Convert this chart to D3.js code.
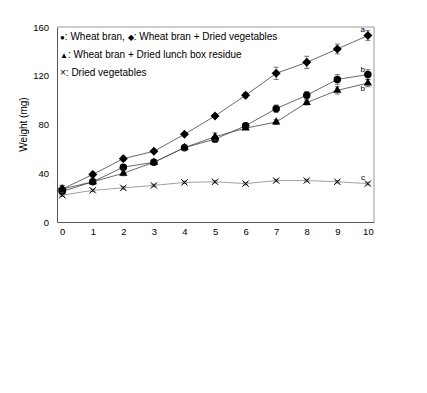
<!DOCTYPE html>
<html lang="en">
<head>
<meta charset="UTF-8">
<title>Weight chart</title>
<script src="https://d3js.org/d3.v7.min.js"></script>
<style>
  body { margin: 0; background: #fff; }
  text { font-family: "Liberation Sans", Arial, sans-serif; fill: #000; }
</style>
</head>
<body>
<svg width="427" height="393"></svg>
<script>
  // days
  const days = [0, 1, 2, 3, 4, 5, 6, 7, 8, 9, 10];
  // mean weight (mg)
  const wheatBran     = [25, 33, 45, 49, 61, 68, 79, 93, 104, 117, 121];
  const wheatVeg      = [27, 39, 52, 58, 72, 87, 104, 122, 131, 142, 153];
  const wheatLunch    = [27, 33, 40, 49, 61, 70, 77, 82, 98, 108, 114];
  const driedVeg      = [22, 26, 28, 30, 32.5, 33, 31.5, 34, 34, 33, 31.5];
  // error (SD)
  const wheatBranErr  = [3, 2, 2, 2, 2, 2, 2, 3, 3, 4, 4];
  const wheatVegErr   = [3, 2, 2, 1, 1, 1, 2, 5, 5, 4, 4];
  const wheatLunchErr = [3, 1, 2, 1, 2, 3, 1, 2, 2, 3, 3];
  const driedVegErr   = [1, 1, 1, 1, 1, 1, 1, 1, 1, 1, 1];
  const yTicks = [0, 40, 80, 120, 160];
  const letters = ["a", "b", "b", "c"];

  const svg = d3.select("svg");
  const mLeft = 57, mRight = 374, mTop = 27, mBottom = 222;

  const x = d3.scaleLinear().domain([-0.17, 10.2]).range([mLeft, mRight]);
  const y = d3.scaleLinear().domain([0, 160]).range([mBottom, mTop]);

  // frame
  svg.append("line").attr("x1", mLeft).attr("x2", mRight).attr("y1", mTop).attr("y2", mTop)
     .attr("stroke", "#999");
  svg.append("line").attr("x1", mRight).attr("x2", mRight).attr("y1", mTop).attr("y2", mBottom)
     .attr("stroke", "#999");

  // axes
  const yAxis = svg.append("g").attr("transform", `translate(${mLeft},0)`)
     .call(d3.axisLeft(y).tickValues(yTicks).tickSize(0).tickPadding(8));
  yAxis.select(".domain").attr("stroke", "#555");
  yAxis.selectAll("text").attr("font-size", 9.5).attr("fill", "#000");

  const xAxis = svg.append("g").attr("transform", `translate(0,${mBottom})`)
     .call(d3.axisBottom(x).tickValues(days).tickSize(0).tickPadding(6));
  xAxis.select(".domain").attr("stroke", "#555");
  xAxis.selectAll("text").attr("font-size", 9.5).attr("fill", "#000");

  svg.append("text")
     .attr("transform", `translate(27,${(mTop + mBottom) / 2}) rotate(-90)`)
     .attr("text-anchor", "middle")
     .attr("font-size", 10)
     .text("Weight (mg)");

  const series = [
    { vals: wheatVeg, err: wheatVegErr, shape: "diamond", line: "#444" },
    { vals: wheatBran, err: wheatBranErr, shape: "circle", line: "#444" },
    { vals: wheatLunch, err: wheatLunchErr, shape: "triangle", line: "#444" },
    { vals: driedVeg, err: driedVegErr, shape: "x", line: "#888" }
  ];

  const line = d3.line().x((d, i) => x(days[i])).y(d => y(d));

  series.forEach(s => {
    svg.append("path").datum(s.vals).attr("d", line)
       .attr("fill", "none").attr("stroke", s.line).attr("stroke-width", 0.8);

    const g = svg.append("g");
    // error bars
    days.forEach((d, i) => {
      const cx = x(d), y1 = y(s.vals[i] - s.err[i]), y2 = y(s.vals[i] + s.err[i]);
      g.append("line").attr("x1", cx).attr("x2", cx).attr("y1", y1).attr("y2", y2)
        .attr("stroke", "#444").attr("stroke-width", 0.7);
      [y1, y2].forEach(yy => g.append("line").attr("x1", cx - 2.5).attr("x2", cx + 2.5)
        .attr("y1", yy).attr("y2", yy).attr("stroke", "#444").attr("stroke-width", 0.7));
    });
    // markers
    days.forEach((d, i) => {
      const cx = x(d), cy = y(s.vals[i]);
      const m = g.append("path").attr("transform", `translate(${cx},${cy})`);
      if (s.shape === "diamond") {
        m.attr("d", d3.symbol().type(d3.symbolSquare).size(40)())
         .attr("transform", `translate(${cx},${cy}) rotate(45)`).attr("fill", "#000");
      } else if (s.shape === "circle") {
        m.attr("d", d3.symbol().type(d3.symbolCircle).size(44)()).attr("fill", "#000");
      } else if (s.shape === "triangle") {
        m.attr("d", d3.symbol().type(d3.symbolTriangle).size(30)()).attr("fill", "#000");
      } else {
        m.attr("d", d3.symbol().type(d3.symbolX).size(28)())
         .attr("fill", "none").attr("stroke", "#000").attr("stroke-width", 1);
      }
    });
  });

  // significance letters
  const lastIdx = days.length - 1;
  const letterPos = [
    [wheatVeg[lastIdx], -4],
    [wheatBran[lastIdx], -3],
    [wheatLunch[lastIdx], 8],
    [driedVeg[lastIdx], -4]
  ];
  letterPos.forEach((p, i) => {
    svg.append("text").attr("x", x(days[lastIdx]) - 3).attr("y", y(p[0]) + p[1])
      .attr("text-anchor", "end").attr("font-size", 8).attr("fill", "#555").text(letters[i]);
  });

  // legend
  const legendLines = [
    [["\u25CF", ": Wheat bran, "], ["\u25C6", ": Wheat bran + Dried vegetables"]],
    [["\u25B2", ": Wheat bran + Dried lunch box residue"]],
    [["\u00D7", ":  Dried vegetables"]]
  ];
  legendLines.forEach((parts, i) => {
    const t = svg.append("text").attr("x", 60).attr("y", 40 + i * 18).attr("font-size", 10);
    parts.forEach(p => {
      t.append("tspan").attr("font-size", p[0] === "\u00D7" ? 10 : 8).text(p[0]);
      t.append("tspan").attr("font-size", 10).text(p[1]);
    });
  });
</script>
</body>
</html>
